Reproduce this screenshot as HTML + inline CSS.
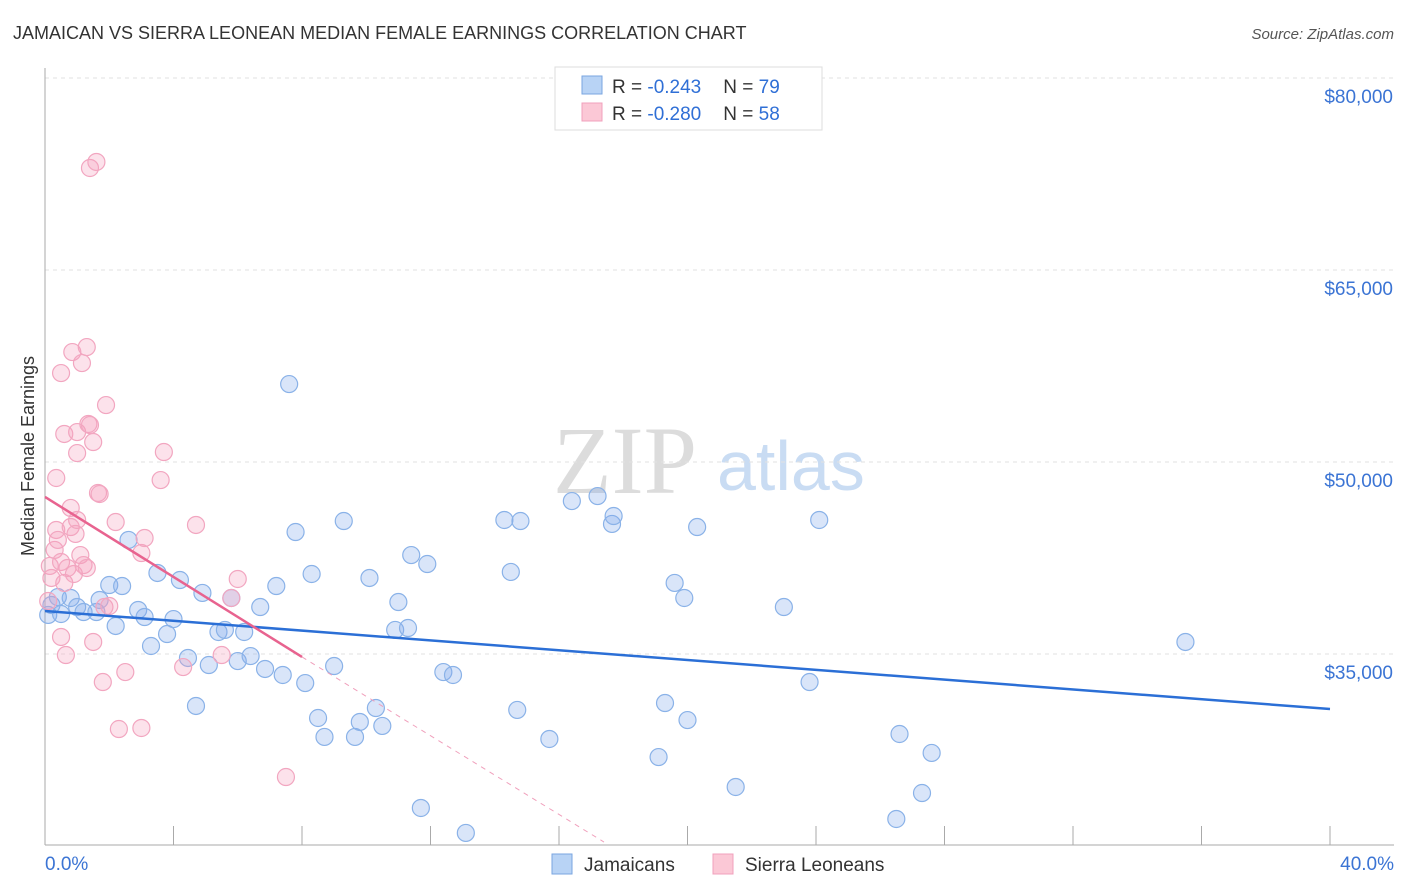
<!DOCTYPE html>
<html><head><meta charset="utf-8"><style>
body{margin:0;background:#fff;font-family:"Liberation Sans",sans-serif}
svg{display:block}
</style></head><body>
<svg width="1406" height="892" xmlns="http://www.w3.org/2000/svg" id="c">
<text x="13" y="39" font-size="18" fill="#333">JAMAICAN VS SIERRA LEONEAN MEDIAN FEMALE EARNINGS CORRELATION CHART</text>
<text x="1394" y="39" font-size="15" fill="#555" text-anchor="end" font-style="italic">Source: ZipAtlas.com</text>
<text x="553" y="493" font-size="96" font-family="Liberation Serif" fill="#dcdcdc">ZIP</text>
<text x="717" y="490" font-size="70" fill="#c9dcf3">atlas</text>
<text transform="translate(34,456) rotate(-90)" font-size="18" fill="#333" text-anchor="middle">Median Female Earnings</text>
<g id="grid"></g><g id="axes"></g><g id="pts"></g><g id="trend"></g>
<g>
<rect x="555" y="67" width="267" height="63" fill="#fff" stroke="#ddd"/>
<rect x="582" y="76" width="20" height="18" fill="#b8d3f5" stroke="#7aa6e0"/>
<rect x="582" y="103" width="20" height="18" fill="#fbc8d6" stroke="#f0a0bc"/>
<text x="612" y="93" font-size="19" fill="#333">R = <tspan fill="#2f6fd6">-0.243</tspan><tspan dx="22">N = </tspan><tspan fill="#2f6fd6">79</tspan></text>
<text x="612" y="120" font-size="19" fill="#333">R = <tspan fill="#2f6fd6">-0.280</tspan><tspan dx="22">N = </tspan><tspan fill="#2f6fd6">58</tspan></text>
</g>
<g>
<rect x="552" y="854" width="20" height="20" fill="#b8d3f5" stroke="#7aa6e0"/>
<text x="584" y="871" font-size="19" fill="#333">Jamaicans</text>
<rect x="713" y="854" width="20" height="20" fill="#fbc8d6" stroke="#f0a0bc"/>
<text x="745" y="871" font-size="19" fill="#333">Sierra Leoneans</text>
</g>
</svg>
<script>
const yTicks=[80000,65000,50000,35000];
const yTickLabels=["$80,000","$65,000","$50,000","$35,000"];
const xTickLabels=["0.0%","40.0%"];
const blueX=[0.1,0.2,0.4,0.5,0.8,1.0,1.2,1.6,1.7,2.0,2.2,2.4,2.6,2.9,3.1,3.3,3.5,3.8,4.0,4.2,4.45,4.7,4.9,5.1,5.4,5.6,5.8,6.0,6.2,6.4,6.7,6.85,7.2,7.4,7.6,7.8,8.1,8.3,8.5,8.7,9.0,9.3,9.65,9.8,10.1,10.3,10.5,10.9,11.0,11.3,11.4,11.7,11.9,12.4,12.7,13.1,14.3,14.5,14.7,14.8,15.7,16.4,17.2,17.65,17.7,19.1,19.3,19.6,19.9,20.0,20.3,21.5,23.0,23.8,24.1,26.5,26.6,27.3,27.6,35.5];
const blueY=[38050,38830,39450,38125,39375,38670,38280,38280,39220,40390,37190,40310,43910,38440,37890,35625,41330,36560,37730,40780,34690,30940,39770,34140,36720,36880,39375,34450,36720,34840,38670,33830,40310,33360,56090,44530,32730,41250,30000,28520,34060,45390,28520,29690,40940,30780,29380,36880,39060,37030,42730,22970,42030,33590,33360,21020,45470,41410,30630,45390,28360,46950,47340,45160,45780,26950,31170,40550,39375,29840,44920,24610,38670,32810,45470,22110,28750,24140,27270,35940];
const pinkX=[0.1,0.15,0.2,0.3,0.35,0.35,0.4,0.5,0.5,0.5,0.6,0.6,0.65,0.7,0.8,0.8,0.85,0.9,0.95,1.0,1.0,1.0,1.1,1.15,1.2,1.3,1.3,1.35,1.4,1.4,1.5,1.5,1.6,1.65,1.7,1.8,1.85,1.9,2.0,2.2,2.3,2.5,3.0,3.0,3.1,3.6,3.7,4.3,4.7,5.5,5.8,6.0,7.5];
const pinkY=[39140,41880,40940,43130,44690,48750,43910,42190,56950,36330,52190,40550,34920,41720,46410,44920,58590,41250,44380,50700,45470,52340,42730,57730,41950,41720,58980,52970,52890,72970,35940,51560,73440,47580,47500,32810,38670,54450,38750,45310,29140,33590,29220,42890,44060,48590,50780,33980,45080,34920,39375,40860,25390];
const blueTrend=[[0,38360],[40,30700]];
const pinkTrend=[[0,47270],[8,34770]];
const pinkDash=[[8,34770],[17.4,20310]];
const NS="http://www.w3.org/2000/svg";
const xs=v=>45+v/40*1285;
const ys=v=>78+(80000-v)*0.0128;
function mk(t,a,p){const e=document.createElementNS(NS,t);for(const k in a)e.setAttribute(k,a[k]);document.getElementById(p).appendChild(e);return e;}
yTicks.forEach((v,i)=>{
 const l=mk('line',{x1:45,x2:1394,y1:ys(v),y2:ys(v),stroke:'#e2e2e2','stroke-dasharray':'4,4'},'grid');
 
 
 const t=mk('text',{x:1393,y:ys(v)+25,'font-size':19,fill:'#3b74d4','text-anchor':'end'},'axes');
 t.textContent=yTickLabels[i];
 
 
});
const ax=mk('line',{x1:45,x2:45,y1:68,y2:845,stroke:'#aaa'},'axes');


const bx=mk('line',{x1:45,x2:1394,y1:845,y2:845,stroke:'#aaa'},'axes');


for(let i=0;i<=10;i++){
 const tk=mk('line',{x1:xs(i*4),x2:xs(i*4),y1:826,y2:845,stroke:'#aaa'},'axes');
 
 
}
[[0,'start',45],[40,'end',1394]].forEach((d,i)=>{
 const t=mk('text',{x:d[2],y:870,'font-size':19,fill:'#3b74d4','text-anchor':d[1]},'axes');
 t.textContent=xTickLabels[i];
 
 
});
blueX.forEach((x,i)=>{
 const c=mk('circle',{cx:xs(x),cy:ys(blueY[i]),r:8.5,fill:'rgba(130,170,235,0.3)',stroke:'#8ab2e8','stroke-width':1.2},'pts');
 
 
});
pinkX.forEach((x,i)=>{
 const c=mk('circle',{cx:xs(x),cy:ys(pinkY[i]),r:8.5,fill:'rgba(245,160,190,0.3)',stroke:'#f2a6c0','stroke-width':1.2},'pts');
 
 
});
const bt=mk('line',{x1:xs(blueTrend[0][0]),y1:ys(blueTrend[0][1]),x2:xs(blueTrend[1][0]),y2:ys(blueTrend[1][1]),stroke:'#2b6fd6','stroke-width':2.5},'trend');


const pd=mk('line',{x1:xs(pinkDash[0][0]),y1:ys(pinkDash[0][1]),x2:xs(pinkDash[1][0]),y2:ys(pinkDash[1][1]),stroke:'#f0a0bc','stroke-width':1,'stroke-dasharray':'5,5'},'trend');


const pt=mk('line',{x1:xs(pinkTrend[0][0]),y1:ys(pinkTrend[0][1]),x2:xs(pinkTrend[1][0]),y2:ys(pinkTrend[1][1]),stroke:'#e8638f','stroke-width':2.5},'trend');


</script>
</body></html>
